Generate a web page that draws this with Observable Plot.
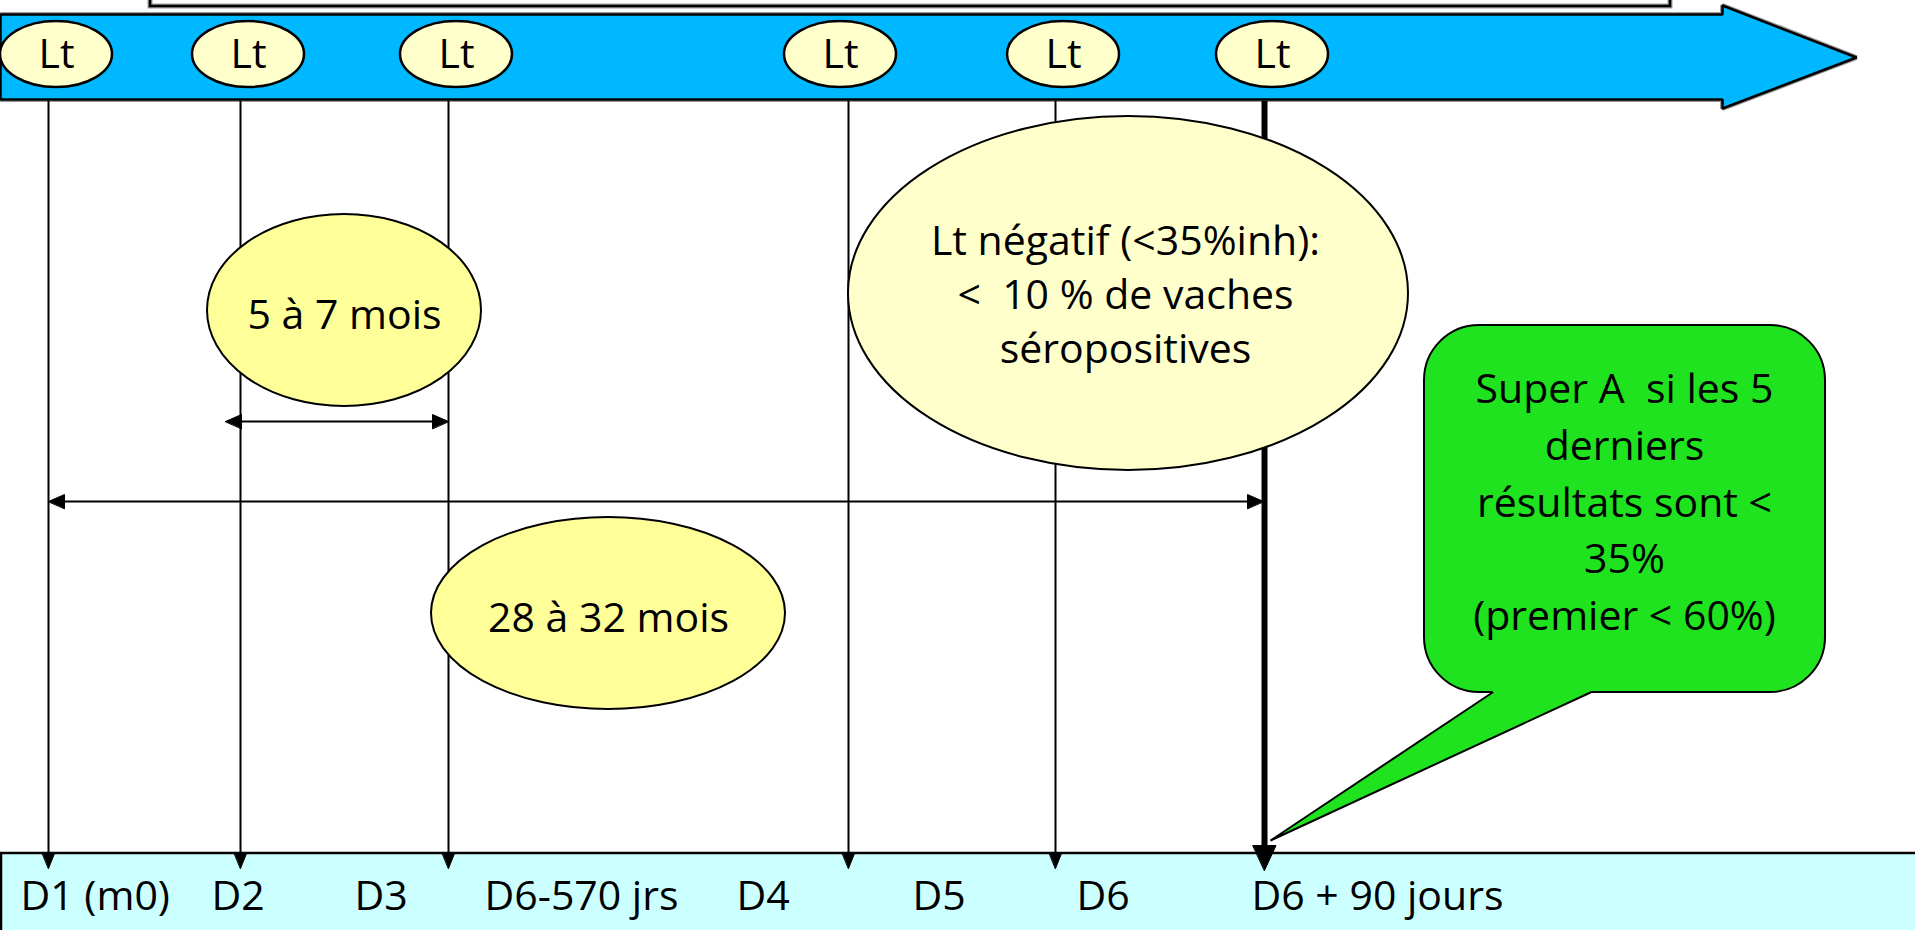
<!DOCTYPE html>
<html><head><meta charset="utf-8">
<script src="https://cdn.jsdelivr.net/npm/d3@7"></script>
<script src="https://cdn.jsdelivr.net/npm/@observablehq/plot@0.6"></script>
<style>html,body{margin:0;padding:0;overflow:hidden;background:#fff}</style>
</head><body><div id="chart"></div>
<script>
const W = 1915, H = 930;

// Lt tests along the timeline arrow
const ltLabels = ["Lt", "Lt", "Lt", "Lt", "Lt", "Lt"];
const ltX = [56, 248, 456, 840, 1063, 1272];
// drop lines from each test down to the day bar
const dropX = [48, 240, 448, 848, 1055, 1264];
const dropThick = [false, false, false, false, false, true];
// day labels on the bottom bar
const dayLabels = ["D1 (m0)", "D2", "D3", "D6-570 jrs", "D4", "D5", "D6", "D6 + 90 jours"];
const dayX = [20, 211, 354, 484, 736, 912, 1076, 1251];
// bubbles
const bubbleText = ["5 à 7 mois", "28 à 32 mois", "Lt négatif (<35%inh):\n<\u00a0 10 % de vaches\nséropositives"];
const bubbleCx = [344, 608, 1128];
const bubbleCy = [310, 613, 293];
const bubbleRx = [137, 177, 280];
const bubbleRy = [96, 96, 177];
const bubbleFill = ["#FFFF99", "#FFFF99", "#FFFFCC"];
const bubbleTextX = [344, 608, 1125];
const bubbleTextY = [311, 614, 291];
// duration spans (double arrows)
const spanFrom = [225, 48];
const spanTo = [448, 1263];
const spanY = [421, 501];
// green callout
const calloutText = "Super A\u00a0 si les 5\nderniers\nrésultats sont <\n35%\n(premier < 60%)";

// ---- geometry helpers ----
const FONT = "Open Sans";
const FS = 41;
function poly(id, pts) { return pts.map(([x, y]) => ({id, x, y})); }

const lt = ltX.map((x, i) => ({x, label: ltLabels[i]}));
const drops = dropX.map((x, i) => ({x, thick: dropThick[i]}));
const days = dayLabels.map((t, i) => ({t, x: dayX[i]}));
const bubbles = bubbleText.map((t, i) => ({t, cx: bubbleCx[i], cy: bubbleCy[i], rx: bubbleRx[i], ry: bubbleRy[i], fill: bubbleFill[i], tx: bubbleTextX[i], ty: bubbleTextY[i]}));
const spans = spanFrom.map((a, i) => ({a, b: spanTo[i], y: spanY[i]}));

const barTop = 853;
const arrowPoly = poly("arrow", [[0, 14], [1722, 14], [1722, 5], [1856, 57], [1722, 108], [1722, 99], [0, 99]]);

const dropHeads = drops.flatMap((d, i) => d.thick
  ? poly("dh" + i, [[d.x - 11.5, barTop - 8], [d.x + 11.5, barTop - 8], [d.x, barTop + 17]])
  : poly("dh" + i, [[d.x - 6, barTop], [d.x + 6, barTop], [d.x, barTop + 15]]));
const spanHeads = spans.flatMap((s, i) => [
  ...poly("sl" + i, [[s.a, s.y], [s.a + 16, s.y - 7], [s.a + 16, s.y + 7]]),
  ...poly("sr" + i, [[s.b, s.y], [s.b - 16, s.y - 7], [s.b - 16, s.y + 7]])
]);

const cal = {x1: 1424, x2: 1825, y1: 325, y2: 692};
const tailFill = poly("tf", [[1492, cal.y2 - 5], [1492, cal.y2], [1270, 840], [1590, cal.y2], [1590, cal.y2 - 5]]);
const tailStroke = poly("ts", [[1492, cal.y2], [1270, 840], [1590, cal.y2]]);

const plot = Plot.plot({
  width: W, height: H, margin: 0,
  x: {domain: [0, W], range: [0, W], axis: null},
  y: {domain: [0, H], range: [0, H], axis: null},
  style: {background: "white", overflow: "visible"},
  marks: [
    // top box (partially off the page)
    Plot.rect([{x1: 150, x2: 1670, y1: -30, y2: 6}], {x1: "x1", x2: "x2", y1: "y1", y2: "y2", fill: "none", stroke: "#999", strokeWidth: 5}),
    Plot.rect([{x1: 150, x2: 1670, y1: -30, y2: 6}], {x1: "x1", x2: "x2", y1: "y1", y2: "y2", fill: "none", stroke: "black", strokeWidth: 2.5}),
    // timeline arrow
    Plot.line(arrowPoly, {x: "x", y: "y", z: "id", curve: "linear-closed", fill: "none", stroke: "#999", strokeWidth: 5, strokeLinejoin: "miter"}),
    Plot.line(arrowPoly, {x: "x", y: "y", z: "id", curve: "linear-closed", fill: "#00B8FF", stroke: "black", strokeWidth: 2.5, strokeLinejoin: "miter"}),
    // Lt ellipses
    Plot.rect(lt, {x1: d => d.x - 56, x2: d => d.x + 56, y1: 21, y2: 87, rx: 9999, ry: 9999, fill: "#FFFFCC", stroke: "black", strokeWidth: 2.5}),
    Plot.text(lt, {x: "x", y: 54, text: "label", fontFamily: FONT, fontSize: FS, fill: "black", lineAnchor: "middle"}),
    // drop lines
    Plot.ruleX(drops.filter(d => !d.thick), {x: "x", y1: 101, y2: barTop, stroke: "black", strokeWidth: 2}),
    Plot.ruleX(drops.filter(d => d.thick), {x: "x", y1: 101, y2: barTop - 6, stroke: "black", strokeWidth: 6}),
    // duration spans
    Plot.ruleY(spans, {y: "y", x1: d => d.a + 8, x2: d => d.b - 8, stroke: "black", strokeWidth: 2}),
    Plot.line(spanHeads, {x: "x", y: "y", z: "id", curve: "linear-closed", fill: "black", stroke: "black", strokeWidth: 1}),
    // bubbles
    Plot.rect(bubbles, {x1: d => d.cx - d.rx, x2: d => d.cx + d.rx, y1: d => d.cy - d.ry, y2: d => d.cy + d.ry, rx: 9999, ry: 9999, fill: "fill", stroke: "black", strokeWidth: 2}),
    Plot.text(bubbles, {x: "tx", y: "ty", text: "t", fontFamily: FONT, fontSize: FS, fill: "black", lineAnchor: "middle", lineHeight: 1.32}),
    // green callout
    Plot.rect([cal], {x1: "x1", x2: "x2", y1: "y1", y2: "y2", rx: 55, ry: 55, fill: "#1EE31E", stroke: "black", strokeWidth: 2}),
    Plot.line(tailFill, {x: "x", y: "y", z: "id", curve: "linear-closed", fill: "#1EE31E", stroke: "none"}),
    Plot.line(tailStroke, {x: "x", y: "y", z: "id", fill: "none", stroke: "black", strokeWidth: 2, strokeLinejoin: "miter"}),
    Plot.text([calloutText], {x: 1624, y: 498, text: d => d, fontFamily: FONT, fontSize: FS, fill: "black", lineAnchor: "middle", lineHeight: 1.38}),
    // bottom day bar
    Plot.rect([{x1: 1, x2: W + 20, y1: barTop, y2: H + 20}], {x1: "x1", x2: "x2", y1: "y1", y2: "y2", fill: "#CCFFFF", stroke: "black", strokeWidth: 2.5}),
    Plot.line(dropHeads, {x: "x", y: "y", z: "id", curve: "linear-closed", fill: "black", stroke: "black", strokeWidth: 1}),
    Plot.text(days, {x: "x", y: 909, text: "t", fontFamily: FONT, fontSize: FS, fill: "black", textAnchor: "start", lineAnchor: "bottom"})
  ]
});
document.getElementById("chart").append(plot);
</script>
</body></html>
